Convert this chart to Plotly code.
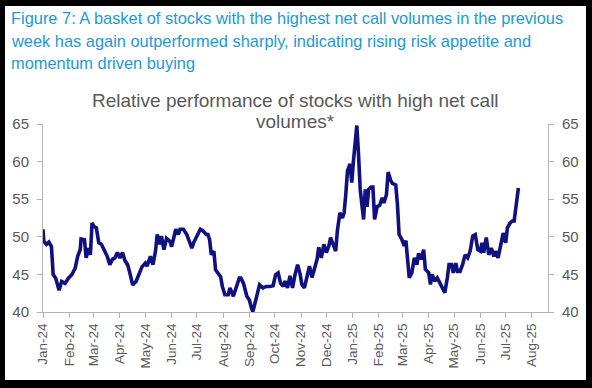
import plotly.graph_objects as go

dates = [
    "2024-01-01","2024-01-02","2024-01-05","2024-01-08","2024-01-11","2024-01-13","2024-01-16","2024-01-20",
    "2024-01-23","2024-01-27","2024-01-31","2024-02-04","2024-02-08","2024-02-11","2024-02-14","2024-02-15",
    "2024-02-19","2024-02-21","2024-02-24","2024-02-26","2024-02-28","2024-03-01","2024-03-04","2024-03-07",
    "2024-03-10","2024-03-14","2024-03-17","2024-03-20","2024-03-23","2024-03-26","2024-03-29","2024-04-01",
    "2024-04-04","2024-04-07","2024-04-10","2024-04-12","2024-04-16","2024-04-20","2024-04-24","2024-04-27",
    "2024-05-01","2024-05-03","2024-05-07","2024-05-10","2024-05-13","2024-05-15","2024-05-18","2024-05-20",
    "2024-05-23","2024-05-26","2024-05-30","2024-06-01","2024-06-03","2024-06-06","2024-06-09","2024-06-11",
    "2024-06-15","2024-06-19","2024-06-22","2024-06-25","2024-06-27","2024-07-01","2024-07-05","2024-07-08",
    "2024-07-12","2024-07-14","2024-07-16","2024-07-18","2024-07-21","2024-07-23","2024-07-26","2024-07-29",
    "2024-07-31","2024-08-03","2024-08-07","2024-08-09","2024-08-13","2024-08-16","2024-08-20","2024-08-22",
    "2024-08-25","2024-08-29","2024-09-01","2024-09-03","2024-09-05","2024-09-07","2024-09-10","2024-09-13",
    "2024-09-17","2024-09-21","2024-09-25","2024-09-29","2024-10-02","2024-10-05","2024-10-08","2024-10-11",
    "2024-10-13","2024-10-16","2024-10-19","2024-10-22","2024-10-25","2024-10-28","2024-10-31","2024-11-02",
    "2024-11-05","2024-11-09","2024-11-11","2024-11-14","2024-11-17","2024-11-20","2024-11-22","2024-11-25",
    "2024-11-28","2024-12-01","2024-12-04","2024-12-06","2024-12-09","2024-12-12","2024-12-14","2024-12-17",
    "2024-12-20","2024-12-22","2024-12-24","2024-12-26","2024-12-29","2024-12-31","2025-01-02","2025-01-04",
    "2025-01-06","2025-01-08","2025-01-10","2025-01-12","2025-01-14","2025-01-16","2025-01-18","2025-01-20",
    "2025-01-23","2025-01-25","2025-01-27","2025-01-30","2025-02-02","2025-02-05","2025-02-07","2025-02-10",
    "2025-02-12","2025-02-15","2025-02-17","2025-02-21","2025-02-23","2025-02-25","2025-02-28","2025-03-03",
    "2025-03-05","2025-03-07","2025-03-09","2025-03-12","2025-03-15","2025-03-18","2025-03-20","2025-03-23",
    "2025-03-26","2025-03-28","2025-04-01","2025-04-03","2025-04-05","2025-04-08","2025-04-11","2025-04-14",
    "2025-04-17","2025-04-20","2025-04-23","2025-04-25","2025-04-28","2025-04-30","2025-05-03","2025-05-05",
    "2025-05-08","2025-05-11","2025-05-14","2025-05-17","2025-05-20","2025-05-23","2025-05-26","2025-05-29",
    "2025-06-01","2025-06-03","2025-06-05","2025-06-08","2025-06-11","2025-06-14","2025-06-17","2025-06-19",
    "2025-06-22","2025-06-25","2025-06-28","2025-07-01","2025-07-03","2025-07-06","2025-07-09","2025-07-11",
    "2025-07-13","2025-07-15","2025-07-16",
]

values = [
    51.0,49.4,49.0,49.3,48.7,45.0,44.5,42.9,
    44.05,43.8,44.5,44.95,45.8,47.4,48.3,49.7,
    49.6,47.2,48.5,47.6,51.85,51.4,51.2,49.2,
    49.0,48.1,47.4,46.3,47.0,47.2,47.9,47.2,
    47.9,46.8,46.3,45.5,43.6,44.05,45.2,46.0,
    46.5,46.1,47.4,46.3,48.1,50.3,49.0,50.1,
    48.3,49.8,49.4,48.7,49.6,51.0,50.3,51.0,
    51.0,50.3,49.4,48.5,49.2,50.1,51.0,50.8,
    50.3,50.3,49.6,47.6,48.1,45.6,45.2,44.7,
    43.4,42.3,42.3,43.2,42.1,43.0,44.5,44.5,
    43.8,42.1,41.6,40.7,40.05,40.9,42.5,43.6,
    43.2,43.4,43.4,43.5,44.95,45.2,43.8,43.4,
    44.1,43.2,44.8,43.2,45.0,46.3,45.0,43.65,
    43.2,45.0,46.1,44.6,45.65,47.0,48.6,47.2,
    49.0,47.9,48.8,49.9,49.0,48.1,50.8,53.2,
    52.5,53.2,55.7,58.8,59.7,57.2,60.1,62.8,
    64.8,61.0,56.3,54.3,52.3,56.3,54.0,56.3,
    56.6,56.6,52.3,54.0,54.2,55.2,54.5,55.6,
    58.6,57.5,57.1,56.9,54.3,50.3,49.7,48.8,
    49.5,47.0,44.55,45.2,47.2,46.3,47.8,47.0,
    48.3,45.7,45.2,43.65,45.0,44.1,44.55,43.9,
    43.2,42.55,44.55,46.3,46.3,45.2,46.5,45.4,
    45.4,46.3,47.6,47.2,48.1,50.1,50.3,48.3,
    48.1,49.2,47.9,49.9,47.6,48.5,47.4,48.1,
    47.2,49.0,50.5,49.2,51.2,51.8,52.1,52.1,
    53.7,56.1,56.5,
]

y_ticks = [40, 45, 50, 55, 60, 65]

caption_lines = [
    "Figure 7: A basket of stocks with the highest net call volumes in the previous",
    "week has again outperformed sharply, indicating rising risk appetite and",
    "momentum driven buying",
]
title_lines = [
    "Relative performance of stocks with high net call",
    "volumes*",
]

GREY = "#595959"
AXIS = "#b3b3b3"
FONT = "Liberation Sans, Arial, sans-serif"

fig = go.Figure()
fig.add_trace(go.Scatter(x=dates, y=values, mode="lines",
                         line=dict(color="#101080", width=3.6), hoverinfo="skip",
                         showlegend=False))
fig.add_trace(go.Scatter(x=dates, y=values, mode="lines", yaxis="y2",
                         line=dict(color="rgba(0,0,0,0)", width=0), hoverinfo="skip",
                         showlegend=False))

L, R, T, B = 43, 44, 124, 76
W, H = 592, 388
pw, ph = W - L - R, H - T - B

def px(xp):
    return (xp - L) / pw

def py(yp):
    return (H - B - yp) / ph

ann = []
for i, line in enumerate(caption_lines):
    ann.append(dict(text=line, x=px(9), y=py(18 + i * 22.5), xref="paper", yref="paper",
                    xanchor="left", yanchor="middle", showarrow=False,
                    font=dict(family=FONT, size=16.4, color="#2299d6")))
for i, line in enumerate(title_lines):
    ann.append(dict(text=line, x=px(295), y=py(100 + i * 21.5), xref="paper", yref="paper",
                    xanchor="center", yanchor="middle", showarrow=False,
                    font=dict(family=FONT, size=19, color=GREY)))

axis_common = dict(showgrid=False, zeroline=False, showline=True, linecolor=AXIS, linewidth=1,
                   ticks="outside", ticklen=5, tickcolor=AXIS, ticklabelstandoff=5,
                   tickfont=dict(family=FONT, size=15, color=GREY))

fig.update_layout(
    width=W, height=H,
    margin=dict(l=L, r=R, t=T, b=B, pad=0),
    paper_bgcolor="black", plot_bgcolor="white",
    showlegend=False,
    annotations=ann,
    shapes=[dict(type="rect", xref="paper", yref="paper", layer="below",
                 x0=px(5), x1=px(586), y0=py(380), y1=py(6),
                 fillcolor="white", line=dict(width=0))],
    xaxis=dict(type="date", range=["2024-01-01", "2025-08-20"],
               tick0="2024-01-01", dtick="M1", tickformat="%b-%y", tickangle=-90,
               showgrid=False, zeroline=False, showline=True, linecolor=AXIS,
               ticks="outside", ticklen=5, tickcolor=AXIS,
               tickfont=dict(family=FONT, size=13.5, color=GREY)),
    yaxis=dict(range=[40, 65], tickvals=y_ticks, side="left", **axis_common),
    yaxis2=dict(range=[40, 65], tickvals=y_ticks, side="right", overlaying="y",
                anchor="x", **axis_common),
)

fig.write_html("out.html", config={"displayModeBar": False},
               post_script="document.body.style.margin='0';document.body.style.overflow='hidden';")
